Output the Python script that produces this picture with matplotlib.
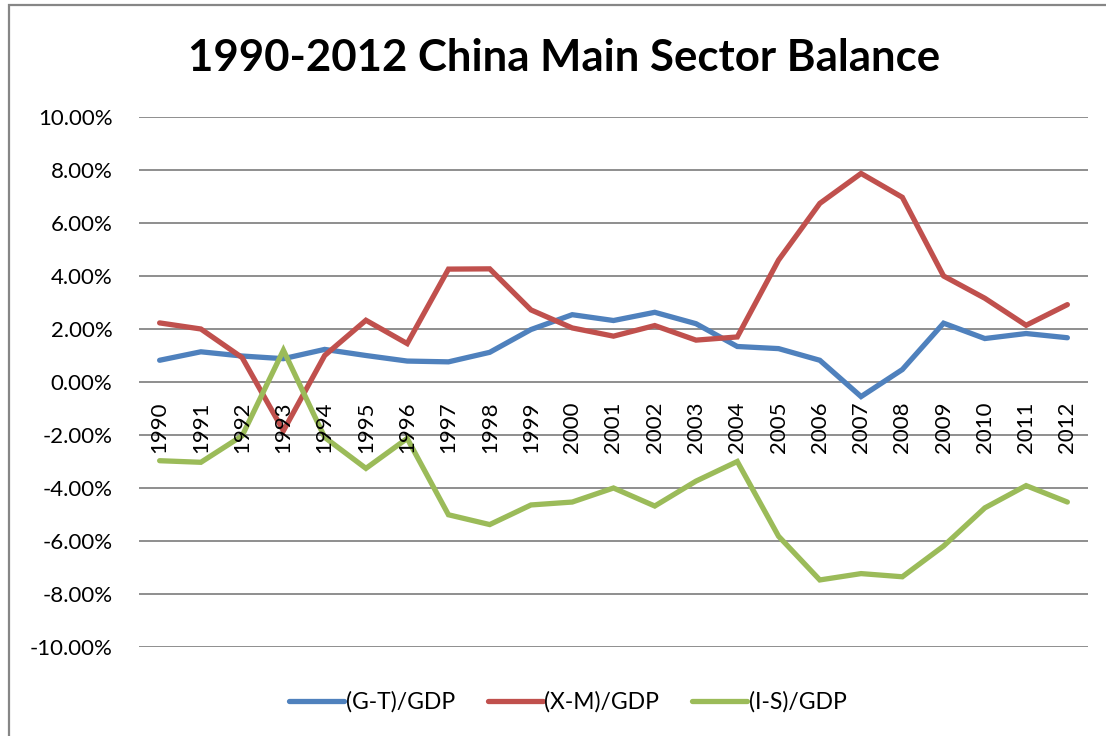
import numpy as np
import matplotlib.pyplot as plt
from matplotlib.patches import Rectangle
from matplotlib.ticker import FuncFormatter

years = [str(y) for y in range(1990, 2013)]

# valores en % del PIB
g_t = [0.82, 1.14, 0.98, 0.88, 1.23, 1.00, 0.79, 0.76, 1.12, 1.98, 2.54, 2.32,
       2.63, 2.20, 1.34, 1.26, 0.82, -0.55, 0.47, 2.22, 1.64, 1.83, 1.67]
x_m = [2.23, 2.00, 0.92, -1.84, 1.00, 2.33, 1.45, 4.26, 4.27, 2.72, 2.04, 1.73,
       2.13, 1.58, 1.70, 4.60, 6.74, 7.87, 6.97, 4.00, 3.16, 2.14, 2.92]
i_s = [-2.97, -3.03, -2.03, 1.20, -2.09, -3.26, -2.13, -5.01, -5.38, -4.64,
       -4.53, -4.00, -4.68, -3.74, -3.00, -5.82, -7.47, -7.23, -7.35, -6.19,
       -4.75, -3.91, -4.53]

labels = ['(G-T)/GDP', '(X-M)/GDP', '(I-S)/GDP']
colors = ['#4F81BD', '#C0504D', '#9BBB59']

plt.rcParams['font.family'] = ['Lato', 'DejaVu Sans']

W, H = 1106, 736
fig = plt.figure(figsize=(W / 100, H / 100), dpi=100)

# borde del area del grafico (estilo Excel)
fig.patches.append(Rectangle((9 / W, -0.1), 1.2, 1.1 - 5 / H, transform=fig.transFigure,
                             fill=False, edgecolor='#868686', lw=1.6))

ax = fig.add_axes([139 / W, 1 - 647 / H, (1088 - 139) / W, (647 - 117) / H])

x = np.arange(len(years))
for serie, lab, col in zip([g_t, x_m, i_s], labels, colors):
    ax.plot(x, serie, color=col, lw=3.8, label=lab, solid_capstyle='round',
            solid_joinstyle='miter')

ax.set_xlim(-0.5, len(years) - 0.5)
ax.set_ylim(-10, 10)
ax.set_yticks(np.arange(-10, 10.1, 2))
ax.yaxis.set_major_formatter(FuncFormatter(lambda v, p: f'{v:.2f}%'))
ax.grid(axis='y', color='#868686', lw=1.3)
ax.set_axisbelow(True)
for s in ax.spines.values():
    s.set_visible(False)
ax.tick_params(axis='y', length=0, pad=19, labelsize=16)
ax.set_xticks([])

# etiquetas del eje x junto a la linea del cero
for xi, yr in zip(x, years):
    ax.annotate(yr, (xi, 0), xytext=(0, -14), textcoords='offset points',
                rotation=90, ha='center', va='top', fontsize=16)

fig.text(564 / W, 1 - 58 / H, '1990-2012 China Main Sector Balance',
         ha='center', va='center', fontsize=31.5, fontweight='bold')

fig.legend(loc='center', bbox_to_anchor=(568 / W, 1 - 702 / H), ncol=3,
           frameon=False, fontsize=16.5, handlelength=2.4, handletextpad=0.05,
           columnspacing=1.45)

fig.savefig('out.png', dpi=100)
